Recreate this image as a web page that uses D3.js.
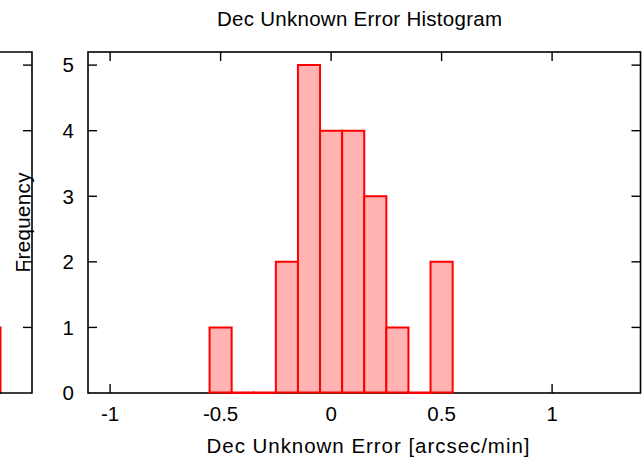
<!DOCTYPE html>
<html>
<head>
<meta charset="utf-8">
<script src="https://cdn.jsdelivr.net/npm/d3@7/dist/d3.min.js"></script>
<style>
  html, body { margin: 0; padding: 0; background: #fff; }
  svg { display: block; }
  text { font-family: "Liberation Sans", Arial, Helvetica, sans-serif; fill: #000; }
</style>
</head>
<body>
<svg id="chart" width="643" height="462"></svg>
<script>
// ---- data ----
const binCenters = [-0.5, -0.4, -0.3, -0.2, -0.1, 0.0, 0.1, 0.2, 0.3, 0.4, 0.5];
const counts     = [1, 0, 0, 2, 5, 4, 4, 3, 1, 0, 2];
const binWidth = 0.1;
const xTicks = [-1, -0.5, 0, 0.5, 1];
const xTickLabels = ["-1", "-0.5", "0", "0.5", "1"];
const yTicks = [0, 1, 2, 3, 4, 5];
const yTickLabels = ["0", "1", "2", "3", "4", "5"];
const titleText = "Dec Unknown Error Histogram";
const xLabelText = "Dec Unknown Error [arcsec/min]";
const yLabelText = "Frequency";
// neighbouring (cropped) panel: only the right edge of its last bar is visible
const leftPanelCounts = [1];

// ---- layout ----
const svg = d3.select("#chart");
const L = 88, R = 640.5, T = 52, B = 393;
const x = d3.scaleLinear().domain([-1.1, 1.4]).range([L, R]);
const y = d3.scaleLinear().domain([0, 5.2]).range([B, T]);
const tickLen = 9;
const fs = 20.5;

// ---- cropped left panel ----
const leftR = 32;
const xl = d3.scaleLinear().domain([0, 1]).range([-60, 0.5]);
const gl = svg.append("g");
gl.selectAll("path.lbar").data(leftPanelCounts).join("path")
  .attr("class", "lbar")
  .attr("d", d => `M${xl(0)},${y(0)}V${y(d)}H${xl(1)}V${y(0)}Z`)
  .attr("fill", "#ffb3b3").attr("stroke", "#ff0000").attr("stroke-width", 2);
gl.append("path")
  .attr("d", `M-5,${T}H${leftR}V${B}H-5`)
  .attr("fill", "none").attr("stroke", "#000").attr("stroke-width", 1.6);
gl.selectAll("line.lt").data(yTicks.filter(v => v > 0)).join("line")
  .attr("class", "lt")
  .attr("x1", leftR).attr("x2", leftR - tickLen)
  .attr("y1", d => y(d)).attr("y2", d => y(d))
  .attr("stroke", "#000").attr("stroke-width", 1.4);

// ---- main frame ----
const g = svg.append("g");
g.append("rect")
  .attr("x", L).attr("y", T).attr("width", R - L).attr("height", B - T)
  .attr("fill", "none").attr("stroke", "#000").attr("stroke-width", 1.6);

// ticks (inward, mirrored)
const tk = g.append("g").attr("stroke", "#000").attr("stroke-width", 1.4);
yTicks.forEach(v => {
  if (v === 0) return;
  tk.append("line").attr("x1", L).attr("x2", L + tickLen).attr("y1", y(v)).attr("y2", y(v));
  tk.append("line").attr("x1", R).attr("x2", R - tickLen).attr("y1", y(v)).attr("y2", y(v));
});
xTicks.forEach(v => {
  tk.append("line").attr("x1", x(v)).attr("x2", x(v)).attr("y1", B).attr("y2", B - tickLen);
  tk.append("line").attr("x1", x(v)).attr("x2", x(v)).attr("y1", T).attr("y2", T + tickLen);
});

// bars
g.selectAll("path.bar").data(binCenters.map((c, i) => ({c, n: counts[i]}))).join("path")
  .attr("class", "bar")
  .attr("d", d => {
    const x0 = x(d.c - binWidth / 2), x1 = x(d.c + binWidth / 2);
    return `M${x0},${y(0) - 0.5}V${y(d.n)}H${x1}V${y(0) - 0.5}Z`;
  })
  .attr("fill", "#ffb3b3").attr("stroke", "#ff0000").attr("stroke-width", 2)
  .attr("stroke-linejoin", "miter");

// tick labels
g.selectAll("text.yl").data(yTicks).join("text")
  .attr("class", "yl")
  .attr("x", 74).attr("y", d => y(d)).attr("dy", "0.36em")
  .attr("text-anchor", "end").attr("font-size", fs)
  .text((d, i) => yTickLabels[i]);
g.selectAll("text.xl").data(xTicks).join("text")
  .attr("class", "xl")
  .attr("x", d => x(d)).attr("y", 421)
  .attr("text-anchor", "middle").attr("font-size", fs)
  .text((d, i) => xTickLabels[i]);

// titles
svg.append("text").attr("x", 359.5).attr("y", 26)
  .attr("text-anchor", "middle").attr("font-size", fs)
  .attr("textLength", 285).attr("lengthAdjust", "spacing")
  .text(titleText);
svg.append("text").attr("x", 368).attr("y", 453)
  .attr("text-anchor", "middle").attr("font-size", fs)
  .attr("textLength", 323).attr("lengthAdjust", "spacing")
  .text(xLabelText);
svg.append("text")
  .attr("transform", `translate(30,${(T + B) / 2}) rotate(-90)`)
  .attr("text-anchor", "middle").attr("font-size", fs)
  .attr("textLength", 100).attr("lengthAdjust", "spacing")
  .text(yLabelText);
</script>
</body>
</html>
